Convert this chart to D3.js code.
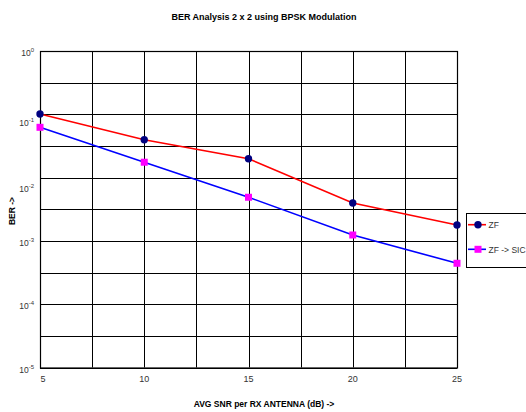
<!DOCTYPE html>
<html>
<head>
<meta charset="utf-8">
<script src="https://cdn.jsdelivr.net/npm/d3@7"></script>
<style>
body{margin:0;background:#fff}
svg{display:block;font-family:"Liberation Sans",Arial,sans-serif}
</style>
</head>
<body>
<svg width="526" height="412"></svg>
<script>
// values
const snr=[5,10,15,20,25]
const berZF=[0.101,0.0397,0.0199,0.00397,0.00178]
const berSIC=[0.0623,0.0175,0.00489,0.00124,0.000443]
const xTicks=[5,10,15,20,25]
const yTicks=[0,-1,-2,-3,-4,-5]
const seriesNames=["ZF","ZF -> SIC"]

const svg=d3.select("svg")
const L=40,R=457,T=51,B=367.5

const x=d3.scaleLinear().domain([5,25]).range([L,R])
const y=d3.scaleLog().domain([1e-5,1]).range([B,T])

// grid: vertical every 2.5 dB, horizontal every half decade
const g=svg.append("g")
d3.range(5,25.01,2.5).forEach(v=>{
g.append("line").attr("x1",Math.round(x(v))+0.5).attr("x2",Math.round(x(v))+0.5)
.attr("y1",T).attr("y2",B).attr("stroke","#000").attr("stroke-width",1)
})
d3.range(0,-5.01,-0.5).forEach(p=>{
let yy=Math.round(y(Math.pow(10,p)))+0.5
g.append("line").attr("x1",L).attr("x2",R).attr("y1",yy).attr("y2",yy)
.attr("stroke","#000").attr("stroke-width",1)
})
svg.append("rect").attr("x",L+0.5).attr("y",T+0.5).attr("width",R-L).attr("height",B-T)
.attr("fill","none").attr("stroke","#000").attr("stroke-width",1.2)

// x tick labels
svg.selectAll(".xt").data(xTicks).enter().append("text")
.attr("x",d=>x(d)+(d===5?3:0)).attr("y",B+14).attr("text-anchor","middle")
.attr("font-size",9).attr("fill","#333").text(d=>d)

// y tick labels 10^p (the original sits a couple of them a bit low)
const nudge={"-1":7,"-2":9}
yTicks.forEach(p=>{
let t=svg.append("text").attr("x",34).attr("y",y(Math.pow(10,p))+5+(nudge[p]||0))
.attr("text-anchor","end").attr("font-size",8.5).attr("fill","#333")
t.append("tspan").text("10")
t.append("tspan").attr("dy",-4).attr("font-size",6).text(p)
})

// titles
svg.append("text").attr("x",264).attr("y",20).attr("text-anchor","middle")
.attr("font-size",9).attr("font-weight","bold").text("BER Analysis 2 x 2 using BPSK Modulation")
svg.append("text").attr("x",264).attr("y",407).attr("text-anchor","middle")
.attr("font-size",8.5).attr("font-weight","bold").text("AVG SNR per RX ANTENNA (dB) ->")
svg.append("text").attr("transform","translate(15,211) rotate(-90)").attr("text-anchor","middle")
.attr("font-size",8.5).attr("font-weight","bold").text("BER ->")

// series
const line=d3.line().x(d=>x(d[0])).y(d=>y(d[1]))
const zf=snr.map((s,i)=>[s,berZF[i]])
const sic=snr.map((s,i)=>[s,berSIC[i]])
svg.append("path").datum(zf).attr("d",line).attr("fill","none").attr("stroke","#ff0000").attr("stroke-width",1.6)
svg.append("path").datum(sic).attr("d",line).attr("fill","none").attr("stroke","#0000ff").attr("stroke-width",1.6)
svg.selectAll(".zfp").data(zf).enter().append("circle")
.attr("cx",d=>x(d[0])).attr("cy",d=>y(d[1])).attr("r",3.7).attr("fill","#000080")
svg.selectAll(".sicp").data(sic).enter().append("rect")
.attr("x",d=>x(d[0])-3.5).attr("y",d=>y(d[1])-3.5).attr("width",7).attr("height",7).attr("fill","#ff00ff")

// legend
svg.append("rect").attr("x",466.5).attr("y",213.5).attr("width",70).attr("height",54)
.attr("fill","#fff").attr("stroke","#000").attr("stroke-width",1)
const lg=[{c:"#ff0000",y:224.7},{c:"#0000ff",y:249.3}]
lg.forEach((e,i)=>{
svg.append("line").attr("x1",468).attr("x2",486).attr("y1",e.y).attr("y2",e.y).attr("stroke",e.c).attr("stroke-width",1.6)
if(i===0){svg.append("circle").attr("cx",478).attr("cy",e.y).attr("r",3.7).attr("fill","#000080")}
else{svg.append("rect").attr("x",474.5).attr("y",e.y-3.5).attr("width",7).attr("height",7).attr("fill","#ff00ff")}
svg.append("text").attr("x",488.5).attr("y",e.y+3.5).attr("font-size",8.5).attr("fill","#333").text(seriesNames[i])
})
</script>
</body>
</html>
